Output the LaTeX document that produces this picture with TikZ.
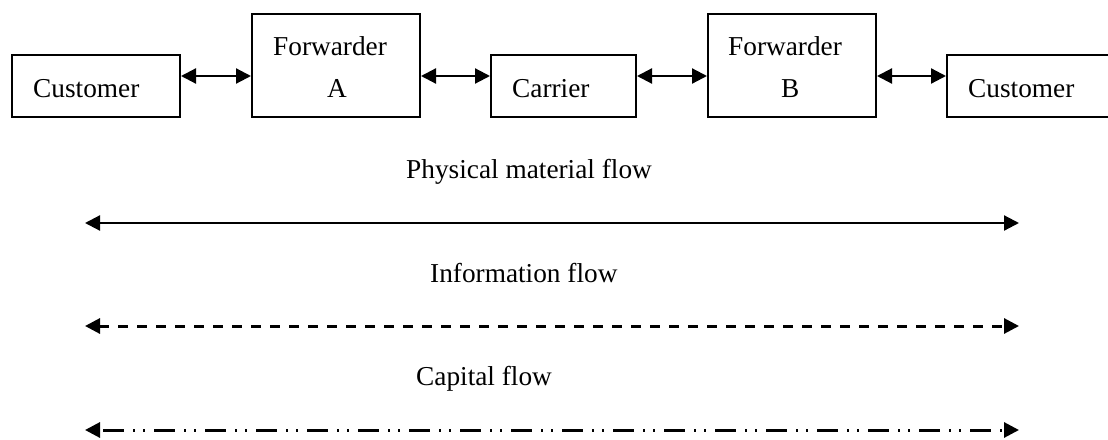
\documentclass[tikz,border=0pt]{standalone}
\usepackage{fontspec}
\setmainfont{Liberation Serif}
\usetikzlibrary{arrows.meta}
\begin{document}
\begin{tikzpicture}[x=1pt,y=-1pt,
  box/.style={draw, line width=2pt, inner sep=0pt, minimum height=62pt, minimum width=168pt},
  tallbox/.style={box, minimum height=103pt},
  txt/.style={font=\fontsize{27.3}{33}\selectfont, inner sep=0pt, anchor=base west},
  link/.style={line width=2.2pt, {Triangle[length=15pt,width=15pt]}-{Triangle[length=15pt,width=15pt]}},
  solidflow/.style={link},
  dashflow/.style={link, line width=3pt, dash pattern=on 10pt off 9pt},
  dotflow/.style={link, line width=3pt, dash pattern=on 21pt off 9pt on 2pt off 8pt on 2pt off 9pt, dash phase=-4pt},
]
\useasboundingbox (0,0) rectangle (1108,439);
\clip (0,0) rectangle (1108,439);

% boxes
\node[box] (cust1) at (96,86) {};
\node[tallbox] (fwdA) at (336,65.5) {};
\node[box, minimum width=145pt] (carr) at (563.5,86) {};
\node[tallbox] (fwdB) at (792,65.5) {};
\node[box] (cust2) at (1031,86) {};

% box texts
\node[txt] (t1) at (33,97) {Customer};
\node[txt] (tA1) at (273,55) {Forwarder};
\node[txt] (tA2) at (327,97) {A};
\node[txt] (t3) at (512,97) {Carrier};
\node[txt] (tB1) at (728,55) {Forwarder};
\node[txt] (tB2) at (781,97) {B};
\node[txt] (t5) at (968,97) {Customer};

% links between boxes
\coordinate (row) at (0,76);
\draw[link] (cust1.east |- row) -- (fwdA.west |- row);
\draw[link] (fwdA.east |- row) -- (carr.west |- row);
\draw[link] (carr.east |- row) -- (fwdB.west |- row);
\draw[link] (fwdB.east |- row) -- (cust2.west |- row);

% flows
\node[txt] (lp) at (406,178) {Physical material flow};
\coordinate (p1) at (85,223);
\coordinate (p2) at (1019,223);
\draw[solidflow] (p1) -- (p2);

\node[txt] (li) at (430,282) {Information flow};
\coordinate (i1) at (85,326);
\coordinate (i2) at (1019,326);
\draw[dashflow] (i1) -- (i2);

\node[txt] (lc) at (416,385) {Capital flow};
\coordinate (c1) at (85,430);
\coordinate (c2) at (1019,430);
\draw[dotflow] (c1) -- (c2);
\end{tikzpicture}
\end{document}
